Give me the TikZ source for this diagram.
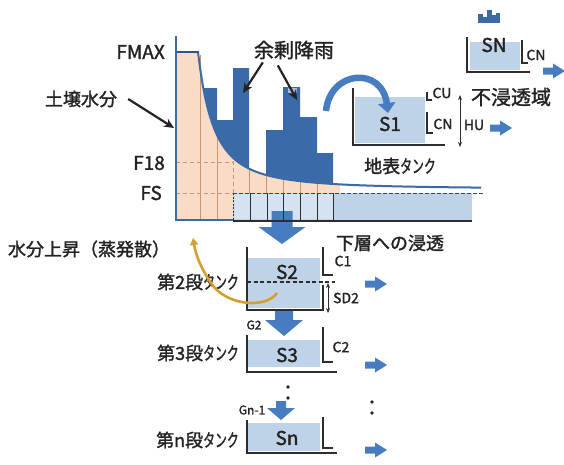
\documentclass[tikz,border=0pt]{standalone}
\usepackage{fontspec}
\usepackage{graphicx}
\setmainfont{Noto Sans CJK JP}[FakeBold=1.6]
\usetikzlibrary{arrows.meta}
\definecolor{barblue}{RGB}{58,106,168}
\definecolor{arrblue}{RGB}{72,124,192}
\definecolor{pinkc}{RGB}{250,220,198}
\definecolor{tankfill}{RGB}{190,211,232}
\definecolor{brownl}{RGB}{196,150,120}
\definecolor{orangec}{RGB}{214,158,48}
\definecolor{wallc}{RGB}{45,45,45}
\definecolor{txtc}{RGB}{35,35,35}
\newcommand{\kanaN}[1]{\scalebox{0.66}[1]{#1}}
\tikzset{
  smallarr/.pic={\fill[arrblue] (0,-3.5) -- (10,-3.5) -- (10,-7.5) -- (22,0) -- (10,7.5) -- (10,3.5) -- (0,3.5) -- cycle;},
  bigdown/.pic={\fill[arrblue] (-10.5,0) -- (10.5,0) -- (10.5,16) -- (23.5,16) -- (0,33) -- (-23.5,16) -- (-10.5,16) -- cycle;},
  middown/.pic={\fill[arrblue] (-9,0) -- (9,0) -- (9,9) -- (19,9) -- (0,25) -- (-19,9) -- (-9,9) -- cycle;},
  smalldown/.pic={\fill[arrblue] (-5,0) -- (5,0) -- (5,7) -- (14,7) -- (0,19) -- (-14,7) -- (-5,7) -- cycle;}
}
\begin{document}
\begin{tikzpicture}[x=1pt,y=-1pt,
  jp/.style={inner sep=0pt, text=txtc, font=\fontsize{18}{18}\selectfont},
  lat/.style={inner sep=0pt, text=txtc, font=\fontsize{19}{19}\selectfont},
  tlab/.style={inner sep=0pt, text=txtc, font=\fontsize{19}{19}\selectfont},
  slab/.style={inner sep=0pt, text=txtc, font=\fontsize{14}{14}\selectfont},
  tiny/.style={inner sep=0pt, text=txtc, font=\fontsize{12}{12}\selectfont},
  wall/.style={wallc, line width=1.1pt},
  txtarrow/.style={txtc, line width=2.2pt, -{Stealth[length=10pt,width=9pt]}},
  dbl/.style={wallc, line width=0.9pt, {Stealth[length=5pt,width=4pt]}-{Stealth[length=5pt,width=4pt]}},
  dashl/.style={brownl, line width=1pt, dash pattern=on 4pt off 3pt}
]
\useasboundingbox (0,0) rectangle (564,464);

% ---------- chart ----------
\fill[barblue] (200,88) -| (217,120) -| (233,68) -| (249,186) -| (266,130) -| (283,87) -| (300,117) -| (317,153) -| (333,200) -- (200,200) -- cycle;
\fill[white!55!barblue] (288,88) rectangle (297,93);
\fill[pinkc] (176,220) -- (176,52) -- (198,52) -- plot[domain=198:340,samples=80] (\x,{189-137*(32/(\x-166))^2}) -- (340,193) -- (233,193) -- (233,220) -- cycle;
\draw[brownl, line width=0.8pt] (200,220) -- (200,55);
\draw[brownl, line width=0.8pt] (217,220) -- (217,{189-137*(32/(217-166))^2});
\foreach \xx in {249,266,283,300,317}
  \draw[brownl, line width=0.6pt] (\xx,193) -- (\xx,{189-137*(32/(\xx-166))^2});
\draw[dashl] (233,193) -- (233,160);
\draw[dashl] (176,162) -- (233,162);
\draw[dashl] (176,193) -- (233,193);
% tank under FS
\fill[tankfill] (233,193) rectangle (472,220);
\fill[white!35!tankfill] (234,194) rectangle (333,219);
\pic at (282,211) {bigdown};
\foreach \xx in {250,267,283,300,317,333}
  \draw[wallc, line width=1pt] (\xx,193) -- (\xx,221);
\draw[wallc, line width=1pt, dash pattern=on 2pt off 1.5pt] (233,193) -- (233,221);
\draw[wallc, line width=1.1pt] (233,221) -- (472,221);
\draw[barblue!70!black, line width=1pt, dash pattern=on 4pt off 2pt] (233,193) -- (483,193);
% curve
\draw[barblue, line width=2pt] plot[domain=198:481,samples=120] (\x,{189-137*(32/(\x-166))^2});
\draw[barblue!80!black, line width=1.3pt] (176,52) -- (199,52);
% axis
\draw[barblue, line width=1.3pt] (176,36) -- (176,220) -- (233,220);

% chart labels
\node[lat, anchor=east] (fmax) at (165,52) {FMAX};
\node[lat, anchor=east] (f18) at (165,163) {F18};
\node[lat, anchor=east] (fs) at (162,193) {FS};
\node[jp] (soil) at (81,99) {土壌水分};
\node[jp, font=\fontsize{20}{20}\selectfont] (rain) at (294,50) {余剰降雨};
\coordinate (soiltip) at (174,128);
\coordinate (rtip1) at (243,93);
\coordinate (rtip2) at (297,100);
\draw[txtarrow] ([xshift=11pt]soil.east) -- (soiltip);
\draw[txtarrow] ([shift={(9,3)}]rain.south west) -- (rtip1);
\draw[txtarrow] ([shift={(24,6)}]rain.south west) -- (rtip2);

% ---------- surface tank S1 ----------
\fill[tankfill] (355,97) rectangle (425,143);
\draw[wall] (353,88) -- (353,145) -- (445,145);
\draw[wall] (427,92) -- (427,100) -- (432,100);
\draw[wall] (427,112) -- (427,133) -- (433,133);
\draw[dbl] (460,95) -- (460,147);
\node[tlab] (s1) at (390,124) {S1};
\node[slab] (cu) at (442,93) {CU};
\node[slab] (cn1) at (443,124) {CN};
\node[slab] (hu) at (474,125) {HU};
\pic at (490,128) {smallarr};
\node[jp] (surf) at (400,166) {地表\kanaN{タンク}};
\draw[arrblue, line width=6.5pt, -{Triangle[width=17pt,length=10pt]}] (326,111) .. controls (330,70) and (382,66) .. (388,113);

% ---------- impervious SN ----------
\foreach \a/\b/\t in {478/483/14,483/487/17,487/492/10,492/496/15,496/500.5/13}
  \fill[barblue] (\a,\t) rectangle (\b-0.4,23);
\fill[tankfill] (470,42) rectangle (520,70);
\draw[wall] (467,37) -- (467,72) -- (530,72);
\draw[wall] (522,40) -- (522,63) -- (528,63);
\node[tlab] (sn) at (494,45) {SN};
\node[slab] (cn0) at (536,55) {CN};
\pic at (543,71) {smallarr};
\node[jp, font=\fontsize{20}{20}\selectfont] (imperv) at (511,97) {不浸透域};

% ---------- lower tanks ----------
\node[jp] (evap) at (89,249) {水分上昇（蒸発散）};
\node[jp] (perc) at (390,243) {下層への浸透};

% S2
\fill[tankfill] (248,258) rectangle (320,308);
\draw[wall] (247,247) -- (247,310) -- (323,310) -- (323,285);
\draw[wall] (323,247) -- (323,275) -- (333,275);
\draw[wallc, line width=1.1pt, dash pattern=on 4pt off 2.5pt] (247,282) -- (335,282);
\draw[dbl] (328,283) -- (328,313);
\node[tlab] (s2) at (287,272) {S2};
\node[slab] (c1) at (343,261) {C1};
\node[slab] (sd2) at (346,298) {SD2};
\pic at (365,284) {smallarr};
\node[jp, anchor=east] (t2) at (239,282) {第2段\kanaN{タンク}};
\draw[orangec, line width=2.6pt, -{Triangle[width=8pt,length=7pt]}] (277,293) .. controls (266,309) and (226,306) .. (211,283) .. controls (201,268) and (196,256) .. (193,238);

% S3
\pic at (284,311) {middown};
\node[tiny] (g2) at (254,325) {G2};
\fill[tankfill] (248,340) rectangle (320,367);
\draw[wall] (247,335) -- (247,372) -- (337,372);
\draw[wall] (323,327) -- (323,362) -- (333,362);
\node[tlab] (s3) at (287,355) {S3};
\node[slab] (c2) at (341,347) {C2};
\pic at (365,365) {smallarr};
\node[jp, anchor=east] (t3) at (239,353) {第3段\kanaN{タンク}};

% dots
\fill[txtc] (288,387) circle (1.8) (288,398) circle (1.8);
\fill[txtc] (372,402) circle (1.8) (372,413) circle (1.8);

% Sn
\pic at (281,401) {smalldown};
\node[tiny] (gn) at (252,410) {Gn-1};
\fill[tankfill] (248,423) rectangle (320,451);
\draw[wall] (247,420) -- (247,453) -- (337,453);
\draw[wall] (323,417) -- (323,448) -- (333,448);
\node[tlab] (sN) at (287,438) {Sn};
\pic at (365,450) {smallarr};
\node[jp, anchor=east] (tn) at (239,440) {第n段\kanaN{タンク}};
\end{tikzpicture}
\end{document}
